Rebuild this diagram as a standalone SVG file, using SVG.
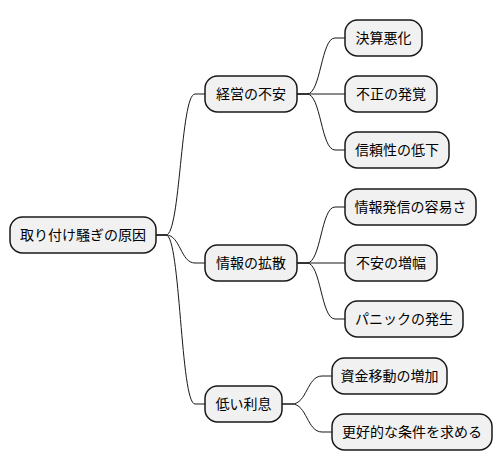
<svg xmlns="http://www.w3.org/2000/svg" width="502" height="471" viewBox="0 0 502 471">
<style>
.n rect{fill:#F1F1F1;stroke:#181818;stroke-width:1.5}
.n text{font-family:"Noto Sans CJK JP","Noto Sans CJK SC",sans-serif;font-size:14px;fill:#000;text-anchor:middle}
.c path{fill:none;stroke:#181818;stroke-width:1}
</style>
<rect width="502" height="471" fill="#FFFFFF"/>
<g id="connectors" class="c">
<path d="M156,235 L166,235 C180.5,235 180.5,94 195,94 L205,94"/>
<path d="M156,235 L166,235 C180.5,235 180.5,263 195,263 L205,263"/>
<path d="M156,235 L166,235 C180.5,235 180.5,404 195,404 L205,404"/>
<path d="M297,94 L307,94 C321,94 321,38 335,38 L345,38"/>
<path d="M297,94 L345,94"/>
<path d="M297,94 L307,94 C321,94 321,150 335,150 L345,150"/>
<path d="M297,263 L307,263 C321,263 321,207 335,207 L345,207"/>
<path d="M297,263 L345,263"/>
<path d="M297,263 L307,263 C321,263 321,319 335,319 L345,319"/>
<path d="M282,404 L292,404 C307,404 307,376 322,376 L332,376"/>
<path d="M282,404 L292,404 C307,404 307,432 322,432 L332,432"/>
</g>
<g id="root" class="n"><rect x="10" y="217" width="146" height="36" rx="12.5"/><text x="83" y="240">取り付け騒ぎの原因</text></g>
<g id="n1" class="n"><rect x="205" y="76" width="92" height="36" rx="12.5"/><text x="251" y="99">経営の不安</text></g>
<g id="n2" class="n"><rect x="205" y="245" width="92" height="36" rx="12.5"/><text x="251" y="268">情報の拡散</text></g>
<g id="n3" class="n"><rect x="205" y="386" width="77" height="36" rx="12.5"/><text x="243.5" y="409">低い利息</text></g>
<g id="n1a" class="n"><rect x="345" y="20" width="77" height="36" rx="12.5"/><text x="383.5" y="43">決算悪化</text></g>
<g id="n1b" class="n"><rect x="345" y="76" width="92" height="36" rx="12.5"/><text x="391" y="99">不正の発覚</text></g>
<g id="n1c" class="n"><rect x="345" y="132" width="104" height="36" rx="12.5"/><text x="397" y="155">信頼性の低下</text></g>
<g id="n2a" class="n"><rect x="345" y="189" width="131" height="36" rx="12.5"/><text x="410.5" y="212">情報発信の容易さ</text></g>
<g id="n2b" class="n"><rect x="345" y="245" width="92" height="36" rx="12.5"/><text x="391" y="268">不安の増幅</text></g>
<g id="n2c" class="n"><rect x="345" y="301" width="118" height="36" rx="12.5"/><text x="404" y="324">パニックの発生</text></g>
<g id="n3a" class="n"><rect x="332" y="358" width="115" height="36" rx="12.5"/><text x="389.5" y="381">資金移動の増加</text></g>
<g id="n3b" class="n"><rect x="332" y="414" width="160" height="36" rx="12.5"/><text x="412" y="437">更好的な条件を求める</text></g>
</svg>
